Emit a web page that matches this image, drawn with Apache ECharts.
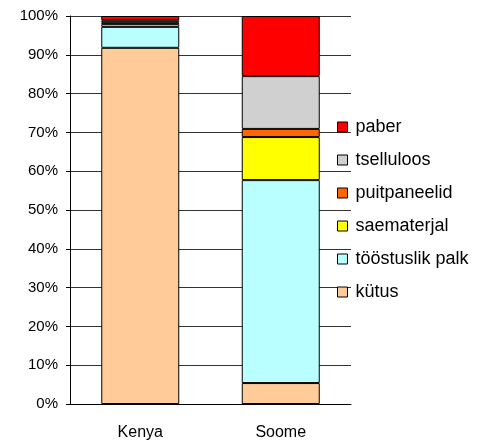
<!DOCTYPE html>
<html>
<head>
<meta charset="utf-8">
<script src="https://cdn.jsdelivr.net/npm/echarts@6/dist/echarts.min.js"></script>
<style>
html,body{margin:0;padding:0;background:#fff;}
#chart{width:485px;height:441px;}
</style>
</head>
<body>
<div id="chart"></div>
<script>
var categories = ['Kenya', 'Soome'];
var kytus = [91.8, 5.4];
var toostuslikPalk = [5.4, 52.3];
var saematerjal = [0.7, 11.1];
var puitpaneelid = [0.5, 2.1];
var tselluloos = [0.5, 13.6];
var paber = [1.1, 15.5];
var seriesNames = ['kütus', 'tööstuslik palk', 'saematerjal', 'puitpaneelid', 'tselluloos', 'paber'];
var seriesData = [kytus, toostuslikPalk, saematerjal, puitpaneelid, tselluloos, paber];
var colors = ['#FFCC99', '#B9FFFF', '#FFFF00', '#FF6600', '#D0D0D0', '#FF0000'];
var legendOrder = ['paber', 'tselluloos', 'puitpaneelid', 'saematerjal', 'tööstuslik palk', 'kütus'];

var font = 'Liberation Sans, Arial, sans-serif';
var chart = echarts.init(document.getElementById('chart'), null, {renderer: 'canvas'});
var series = seriesNames.map(function (n, i) {
  return {
    name: n,
    type: 'bar',
    stack: 'total',
    barWidth: 78,
    data: seriesData[i],
    itemStyle: {color: colors[i], borderColor: '#000', borderWidth: 1},
    emphasis: {disabled: true}
  };
});
chart.setOption({
  animation: false,
  backgroundColor: '#fff',
  grid: {left: 70, right: 134, top: 16, bottom: 37, containLabel: false},
  legend: {
    orient: 'vertical',
    left: 337,
    top: 118,
    padding: 0,
    data: legendOrder,
    icon: 'rect',
    itemWidth: 10,
    itemHeight: 10,
    itemGap: 15,
    textStyle: {fontFamily: font, fontSize: 18, color: '#000', padding: [0, 0, 0, 3]},
    itemStyle: {borderColor: '#000', borderWidth: 1}
  },
  xAxis: {
    type: 'category',
    data: categories,
    axisLine: {lineStyle: {color: '#000', width: 1}},
    axisTick: {show: false},
    axisLabel: {fontFamily: font, fontSize: 16, color: '#000', margin: 21}
  },
  yAxis: {
    type: 'value',
    min: 0,
    max: 100,
    interval: 10,
    axisLine: {show: true, lineStyle: {color: '#000', width: 1}},
    axisTick: {show: true, length: 4, lineStyle: {color: '#000'}},
    splitLine: {show: true, lineStyle: {color: '#333', width: 1}},
    axisLabel: {fontFamily: font, fontSize: 15, color: '#000', margin: 12, formatter: '{value}%'}
  },
  series: series
});
</script>
</body>
</html>
